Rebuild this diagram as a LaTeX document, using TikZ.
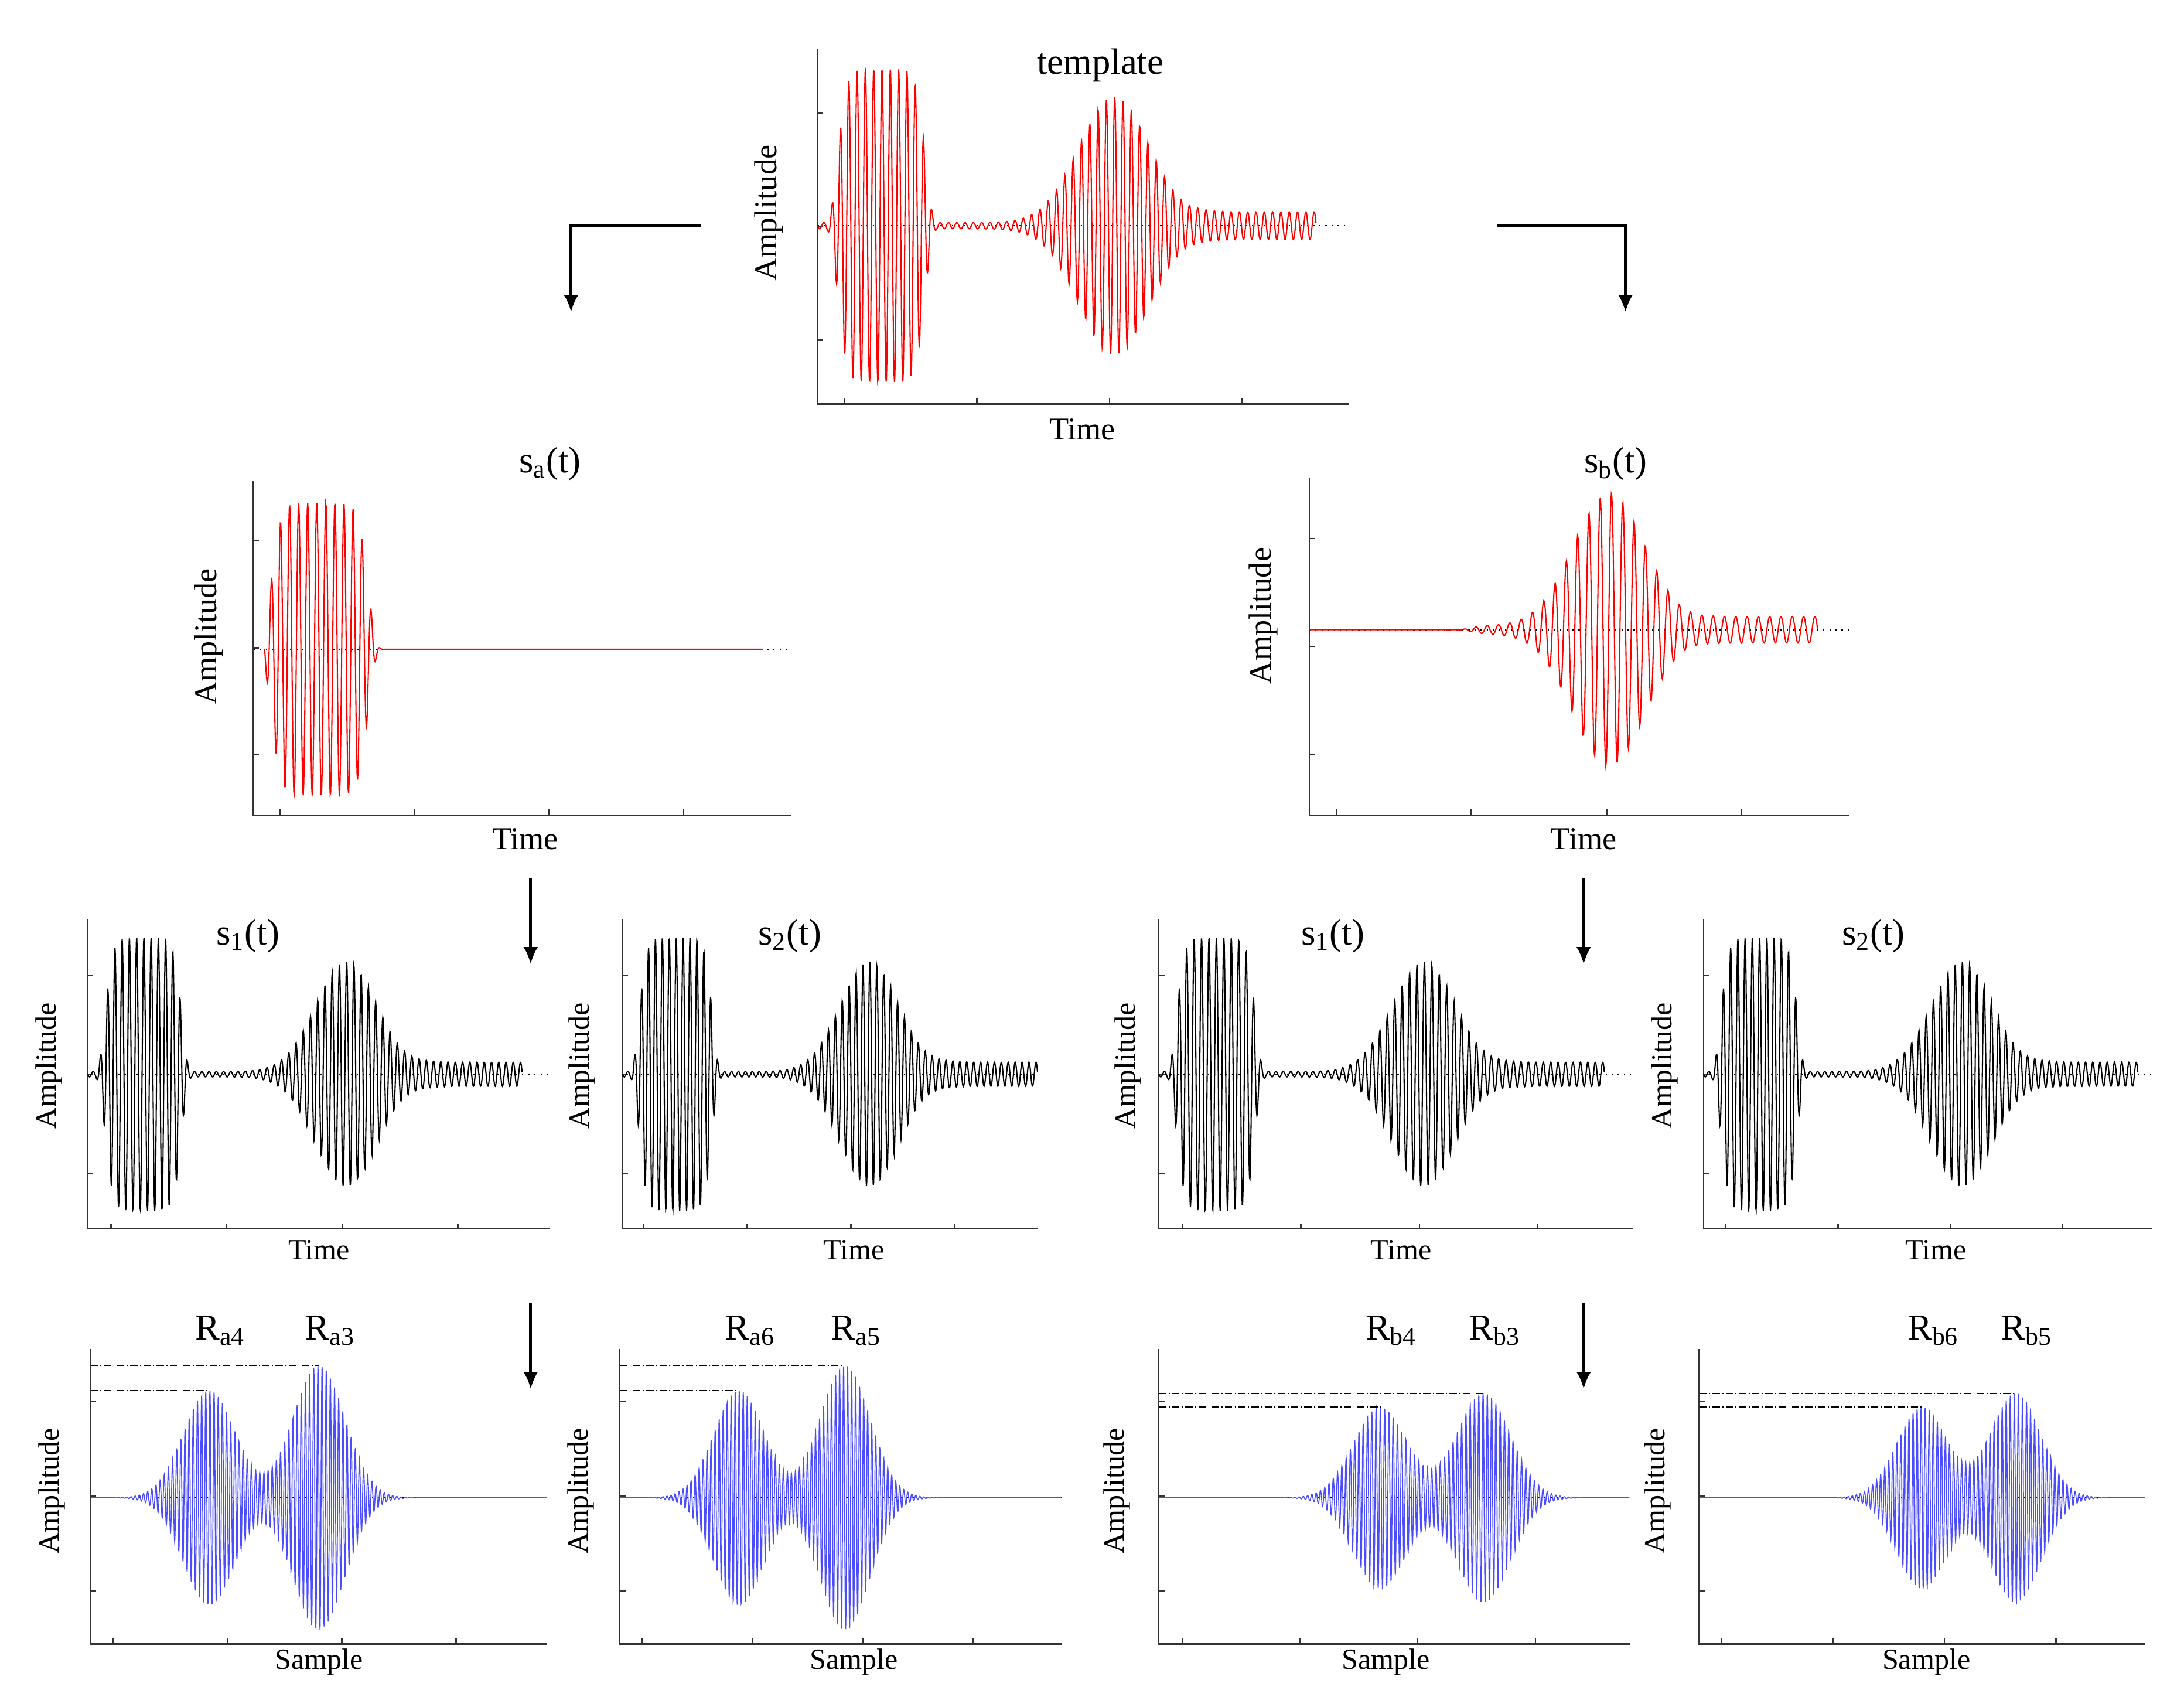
\documentclass[tikz,border=0pt]{standalone}
\usepackage{fontspec}
\setmainfont{Liberation Serif}
\usetikzlibrary{arrows.meta}
\begin{document}
\begin{tikzpicture}[x=0.02cm,y=-0.02cm,
  axis/.style={line width=0.6pt,black!80},
  zero/.style={dotted,line width=0.5pt},
  sig/.style={line width=0.5pt},
  arr/.style={line width=1.2pt,-{Latex[length=7pt,width=6pt]}},
  peakline/.style={densely dashdotted,line width=0.5pt},
  big/.style={font=\fontsize{15}{17}\selectfont},
  lab/.style={font=\fontsize{12}{14}\selectfont},
  amp/.style={font=\fontsize{12}{14}\selectfont,rotate=90}]
\useasboundingbox (0,0) rectangle (1568,1225);
\def\tpl{(exp(-(min(abs((\x-0.128)/0.09),2))^8)+0.82*exp(-(min(abs((\x-0.595)/0.1),4))^2)+0.07/(1+exp(min(-(\x-0.75)/0.02,9)))+0.02)*sin(360*frac(60*\x))}
\def\sa{exp(-(min(abs((\x-0.11)/0.1),2))^8)*sin(360*frac(55*\x))}
\def\sb{(exp(-(min(abs((\x-0.59)/0.1),4))^2)+0.07/(1+exp(min(-(\x-0.76)/0.02,9)))+0.03/(1+exp(min(-(\x-0.32)/0.01,9))))*sin(360*frac(45*\x))}
\newcommand\axes[5]{%
  \draw[axis] (#1,#2) -- (#1,#4) -- (#3,#4);
  \draw[zero] (#1,#5) -- (#3,#5);
  \foreach \t in {0.18,0.5,0.82} \draw[axis] ({#1},{#2+(#4-#2)*\t}) -- ({#1+4},{#2+(#4-#2)*\t});
  \foreach \t in {0.05,0.3,0.55,0.8} \draw[axis] ({#1+(#3-#1)*\t},#4) -- ({#1+(#3-#1)*\t},{#4-4});}
% template
\axes{587}{35}{968}{290}{162}
\begin{scope}[shift={(587,162)},xscale=358,yscale=110]
\draw[sig,red] plot[domain=0:1,samples=1300] (\x,{\tpl});
\end{scope}
\node[big] (tt) at (790,47) {template};
\node[amp,font=\fontsize{13}{15}\selectfont] (ta) at (552,153) {Amplitude};
\node[lab,font=\fontsize{13}{15}\selectfont] (tx) at (777,308) {Time};
% top arrows
\coordinate (l0) at (503,162); \coordinate (l1) at (410,162); \coordinate (l2) at (410,224);
\coordinate (r0) at (1075,162); \coordinate (r1) at (1167,162); \coordinate (r2) at (1167,224);
\draw[arr] (l0) -- (l1) -- (l2);
\draw[arr] (r0) -- (r1) -- (r2);
% sa
\axes{182}{345}{568}{585}{466}
\begin{scope}[shift={(190,466)},xscale=358,yscale=105]
\draw[sig,red] plot[domain=0:1,samples=1100] (\x,{\sa});
\end{scope}
\node[big] (sat) at (395,333) {s\textsubscript{a}(t)};
\node[amp,font=\fontsize{13}{15}\selectfont] (saa) at (150,457) {Amplitude};
\node[lab,font=\fontsize{13}{15}\selectfont] (sax) at (377,602) {Time};
% sb
\axes{940}{343}{1328}{585}{452}
\begin{scope}[shift={(940,452)},xscale=365,yscale=95]
\draw[sig,red] plot[domain=0:1,samples=1000] (\x,{\sb});
\end{scope}
\node[big] (sbt) at (1160,333) {s\textsubscript{b}(t)};
\node[amp,font=\fontsize{13}{15}\selectfont] (sba) at (907,442) {Amplitude};
\node[lab,font=\fontsize{13}{15}\selectfont] (sbx) at (1137,602) {Time};
% down arrows
\foreach \ax/\n in {381/a,1137/b}{
  \coordinate (d1\n) at (\ax,630); \coordinate (d2\n) at (\ax,692);
  \coordinate (d3\n) at (\ax,935); \coordinate (d4\n) at (\ax,997);
  \draw[arr] (d1\n) -- (d2\n); \draw[arr] (d3\n) -- (d4\n);}
% row 3
\foreach \L/\R/\S/\k/\tx/\ttx/\ax [count=\i] in {63/395/312/1/178/229/35,447/745/298/2/567/613/418,832/1172/320/1/957/1006/810,1223/1545/312/2/1345/1390/1195}{
  \axes{\L}{660}{\R}{882}{771}
  \begin{scope}[shift={(\L,771)},xscale=\S,yscale=96]
  \draw[sig,black] plot[domain=0:1,samples=1200] (\x,{\tpl});
  \end{scope}
  \node[big] (s\i) at (\tx,672) {s\textsubscript{\k}(t)};
  \node[lab] (t\i) at (\ttx,897) {Time};
  \node[amp] (a\i) at (\ax,765) {Amplitude};
}
% row 4
\foreach \L/\R/\ca/\aa/\cb/\ab/\la/\lb/\sx/\ax [count=\i] in
 {65/393/0.26/77/0.50/95/a4/a3/229/37,
  445/762/0.27/77/0.51/95/a6/a5/613/417,
  832/1170/0.47/65/0.69/75/b4/b3/995/802,
  1220/1540/0.50/65/0.71/75/b6/b5/1383/1190}{
  \pgfmathsetmacro\W{\R-\L}
  \axes{\L}{968}{\R}{1180}{1075}
  \begin{scope}[shift={(\L,1075)},xscale=\W,yscale=1]
  \draw[sig,blue!70,line width=0.4pt] plot[domain=0:1,samples=2200] (\x,{(\aa*exp(-(min(abs((\x-\ca)/0.08),4))^2)+\ab*exp(-(min(abs((\x-\cb)/0.08),4))^2))*sin(360*frac(110*\x))});
  \end{scope}
  \draw[peakline] (\L,{1075-\aa}) -- ({\L+\W*\ca},{1075-\aa});
  \draw[peakline] (\L,{1075-\ab}) -- ({\L+\W*\cb},{1075-\ab});
  \node[big] (ra\i) at ({\L+\W*\ca+8},955) {R\textsubscript{\la}};
  \node[big] (rb\i) at ({\L+\W*\cb+8},955) {R\textsubscript{\lb}};
  \node[lab] (x\i) at (\sx,1193) {Sample};
  \node[amp] (b\i) at (\ax,1070) {Amplitude};
}
\end{tikzpicture}
\end{document}
